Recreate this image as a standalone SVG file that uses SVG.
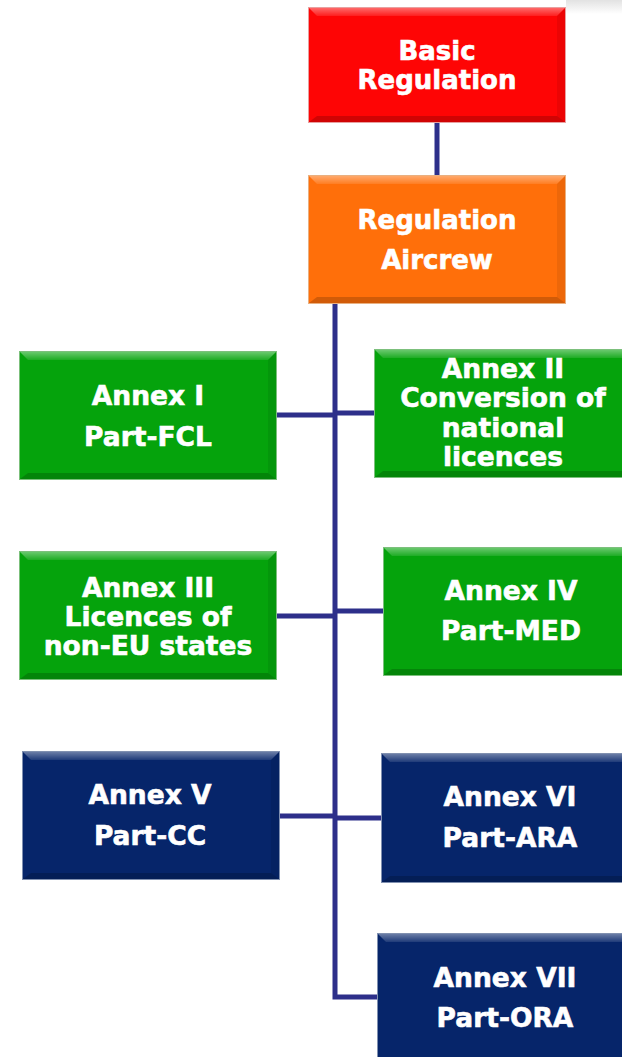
<svg xmlns="http://www.w3.org/2000/svg" width="622" height="1057" viewBox="0 0 622 1057">
<defs>
<linearGradient id="topshade" x1="0" y1="0" x2="0" y2="1">
<stop offset="0" stop-color="#e2e2e2"/>
<stop offset="1" stop-color="#ffffff"/>
</linearGradient>
<linearGradient id="hi" x1="0" y1="0" x2="0" y2="1">
<stop offset="0" stop-color="#ffffff" stop-opacity="0.4"/>
<stop offset="1" stop-color="#ffffff" stop-opacity="0.1"/>
</linearGradient>
</defs>
<style>
.red{fill:#fe0505;stroke:#e8a0a0;stroke-width:1}
.orange{fill:#ff6f0a;stroke:#e9b080;stroke-width:1}
.green{fill:#05a30c;stroke:#7cc07c;stroke-width:1}
.navy{fill:#06256a;stroke:#8090b0;stroke-width:1}
.bev-top{fill:url(#hi)}
.bev-bot{fill:#000000;fill-opacity:0.18}
.bev-side{fill:#000000;fill-opacity:0.07}
.lbl{font-family:"DejaVu Sans","Verdana",sans-serif;font-weight:bold;fill:#ffffff;stroke:#ffffff;stroke-width:0.6;text-anchor:middle;font-size:26.5px}
.big{font-size:26px}
.conn{stroke:#2d2f8a;stroke-width:5;fill:none}
</style>
<rect x="566" y="0" width="56" height="14" fill="url(#topshade)"/>
<g id="connectors">
<line class="conn" x1="437" y1="123" x2="437" y2="176"/>
<polyline class="conn" points="335,304 335,997 378,997"/>
<line class="conn" x1="276" y1="415" x2="335" y2="415"/>
<line class="conn" x1="335" y1="413" x2="375" y2="413"/>
<line class="conn" x1="276" y1="616" x2="335" y2="616"/>
<line class="conn" x1="335" y1="611" x2="384" y2="611"/>
<line class="conn" x1="279" y1="816" x2="335" y2="816"/>
<line class="conn" x1="335" y1="818" x2="382" y2="818"/>
</g>
<g id="basic-regulation">
<rect class="red" x="308.5" y="7.5" width="257" height="115"/>
<polygon class="bev-top" points="309,8 565,8 557,16 317,16"/>
<polygon class="bev-bot" points="309,122 565,122 557,116 317,116"/>
<polygon class="bev-side" points="565,8 565,122 557,116 557,16"/>
<text class="lbl big" x="437" y="60">Basic</text>
<text class="lbl big" x="437" y="89">Regulation</text>
</g>
<g id="regulation-aircrew">
<rect class="orange" x="308.5" y="175.5" width="257" height="128"/>
<polygon class="bev-top" points="309,176 565,176 557,184 317,184"/>
<polygon class="bev-bot" points="309,303 565,303 557,297 317,297"/>
<polygon class="bev-side" points="565,176 565,303 557,297 557,184"/>
<text class="lbl big" x="437" y="229">Regulation</text>
<text class="lbl big" x="437" y="269">Aircrew</text>
</g>
<g id="annex-1">
<rect class="green" x="19.5" y="351.5" width="257" height="128"/>
<polygon class="bev-top" points="20,352 276,352 268,360 28,360"/>
<polygon class="bev-bot" points="20,479 276,479 268,473 28,473"/>
<polygon class="bev-side" points="276,352 276,479 268,473 268,360"/>
<text class="lbl" x="148" y="405">Annex I</text>
<text class="lbl" x="148" y="446">Part-FCL</text>
</g>
<g id="annex-2">
<rect class="green" x="374.5" y="349.5" width="258" height="128"/>
<polygon class="bev-top" points="375,350 632,350 624,358 383,358"/>
<polygon class="bev-bot" points="375,477 632,477 624,471 383,471"/>
<text class="lbl" x="503" y="378">Annex II</text>
<text class="lbl" x="503" y="407">Conversion of</text>
<text class="lbl" x="503" y="437">national</text>
<text class="lbl" x="503" y="466">licences</text>
</g>
<g id="annex-3">
<rect class="green" x="19.5" y="551.5" width="257" height="128"/>
<polygon class="bev-top" points="20,552 276,552 268,560 28,560"/>
<polygon class="bev-bot" points="20,679 276,679 268,673 28,673"/>
<polygon class="bev-side" points="276,552 276,679 268,673 268,560"/>
<text class="lbl" x="148" y="597">Annex III</text>
<text class="lbl" x="148" y="626">Licences of</text>
<text class="lbl" x="148" y="655">non-EU states</text>
</g>
<g id="annex-4">
<rect class="green" x="383.5" y="547.5" width="258" height="128"/>
<polygon class="bev-top" points="384,548 641,548 633,556 392,556"/>
<polygon class="bev-bot" points="384,675 641,675 633,669 392,669"/>
<text class="lbl" x="511" y="600">Annex IV</text>
<text class="lbl" x="511" y="640">Part-MED</text>
</g>
<g id="annex-5">
<rect class="navy" x="22.5" y="751.5" width="257" height="128"/>
<polygon class="bev-top" points="23,752 279,752 271,760 31,760"/>
<polygon class="bev-bot" points="23,879 279,879 271,873 31,873"/>
<polygon class="bev-side" points="279,752 279,879 271,873 271,760"/>
<text class="lbl" x="150" y="804">Annex V</text>
<text class="lbl" x="150" y="845">Part-CC</text>
</g>
<g id="annex-6">
<rect class="navy" x="381.5" y="753.5" width="258" height="129"/>
<polygon class="bev-top" points="382,754 639,754 631,762 390,762"/>
<polygon class="bev-bot" points="382,882 639,882 631,876 390,876"/>
<text class="lbl" x="510" y="806">Annex VI</text>
<text class="lbl" x="510" y="847">Part-ARA</text>
</g>
<g id="annex-7">
<rect class="navy" x="377.5" y="933.5" width="258" height="130"/>
<polygon class="bev-top" points="378,934 635,934 627,942 386,942"/>
<text class="lbl" x="505" y="987">Annex VII</text>
<text class="lbl" x="505" y="1027">Part-ORA</text>
</g>
</svg>
